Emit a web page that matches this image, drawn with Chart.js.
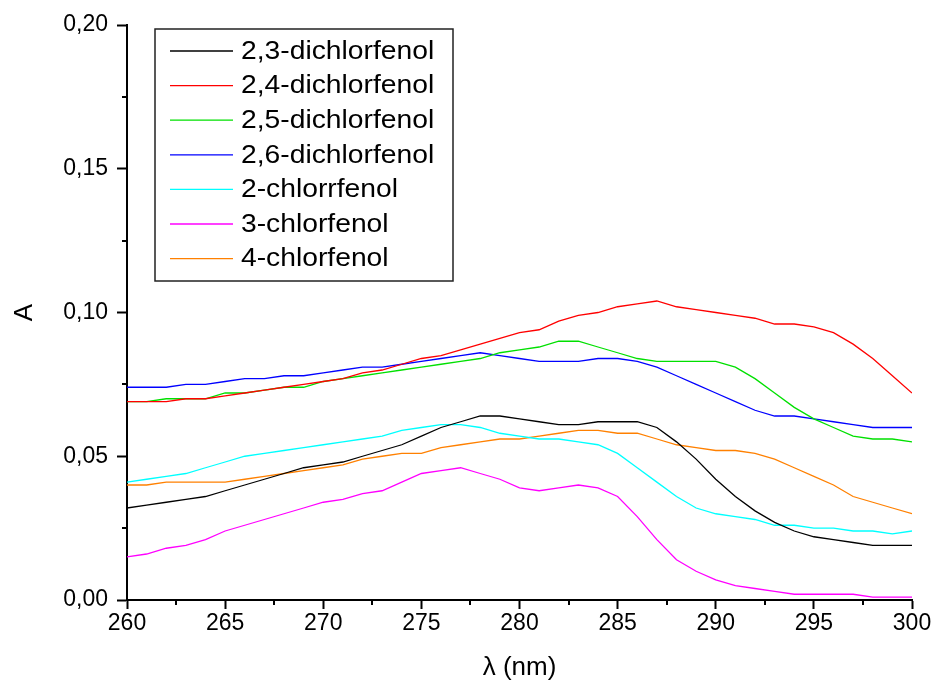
<!DOCTYPE html>
<html>
<head>
<meta charset="utf-8">
<script src="https://cdn.jsdelivr.net/npm/chart.js@4.4.1/dist/chart.umd.min.js"></script>
<style>
    html, body { margin: 0; padding: 0; background: #fff; }
    #wrap { width: 933px; height: 687px; }
</style>
</head>
<body>
<div id="wrap"><canvas id="spectraChart" width="933" height="687"></canvas></div>
<script>
// vlnova delka (nm)
const wavelengths = [260, 261, 262, 263, 264, 265, 266, 267, 268, 269, 270,
    271, 272, 273, 274, 275, 276, 277, 278, 279, 280,
    281, 282, 283, 284, 285, 286, 287, 288, 289, 290,
    291, 292, 293, 294, 295, 296, 297, 298, 299, 300];

const seriesNames = ['2,3-dichlorfenol', '2,4-dichlorfenol', '2,5-dichlorfenol',
    '2,6-dichlorfenol', '2-chlorrfenol', '3-chlorfenol', '4-chlorfenol'];

const dcp23 = [0.032, 0.033, 0.034, 0.035, 0.036, 0.038, 0.040, 0.042, 0.044, 0.046, 0.047,
    0.048, 0.050, 0.052, 0.054, 0.057, 0.060, 0.062, 0.064, 0.064, 0.063,
    0.062, 0.061, 0.061, 0.062, 0.062, 0.062, 0.060, 0.055, 0.049, 0.042,
    0.036, 0.031, 0.027, 0.024, 0.022, 0.021, 0.020, 0.019, 0.019, 0.019];

const dcp24 = [0.069, 0.069, 0.069, 0.070, 0.070, 0.071, 0.072, 0.073, 0.074, 0.075, 0.076,
    0.077, 0.079, 0.080, 0.082, 0.084, 0.085, 0.087, 0.089, 0.091, 0.093,
    0.094, 0.097, 0.099, 0.100, 0.102, 0.103, 0.104, 0.102, 0.101, 0.100,
    0.099, 0.098, 0.096, 0.096, 0.095, 0.093, 0.089, 0.084, 0.078, 0.072];

const dcp25 = [0.069, 0.069, 0.070, 0.070, 0.070, 0.072, 0.072, 0.073, 0.074, 0.074, 0.076,
    0.077, 0.078, 0.079, 0.080, 0.081, 0.082, 0.083, 0.084, 0.086, 0.087,
    0.088, 0.090, 0.090, 0.088, 0.086, 0.084, 0.083, 0.083, 0.083, 0.083,
    0.081, 0.077, 0.072, 0.067, 0.063, 0.060, 0.057, 0.056, 0.056, 0.055];

const dcp26 = [0.074, 0.074, 0.074, 0.075, 0.075, 0.076, 0.077, 0.077, 0.078, 0.078, 0.079,
    0.080, 0.081, 0.081, 0.082, 0.083, 0.084, 0.085, 0.086, 0.085, 0.084,
    0.083, 0.083, 0.083, 0.084, 0.084, 0.083, 0.081, 0.078, 0.075, 0.072,
    0.069, 0.066, 0.064, 0.064, 0.063, 0.062, 0.061, 0.060, 0.060, 0.060];

const cp2 = [0.041, 0.042, 0.043, 0.044, 0.046, 0.048, 0.050, 0.051, 0.052, 0.053, 0.054,
    0.055, 0.056, 0.057, 0.059, 0.060, 0.061, 0.061, 0.060, 0.058, 0.057,
    0.056, 0.056, 0.055, 0.054, 0.051, 0.046, 0.041, 0.036, 0.032, 0.030,
    0.029, 0.028, 0.026, 0.026, 0.025, 0.025, 0.024, 0.024, 0.023, 0.024];

const cp3 = [0.015, 0.016, 0.018, 0.019, 0.021, 0.024, 0.026, 0.028, 0.030, 0.032, 0.034,
    0.035, 0.037, 0.038, 0.041, 0.044, 0.045, 0.046, 0.044, 0.042, 0.039,
    0.038, 0.039, 0.040, 0.039, 0.036, 0.029, 0.021, 0.014, 0.010, 0.007,
    0.005, 0.004, 0.003, 0.002, 0.002, 0.002, 0.002, 0.001, 0.001, 0.001];

const cp4 = [0.040, 0.040, 0.041, 0.041, 0.041, 0.041, 0.042, 0.043, 0.044, 0.045, 0.046,
    0.047, 0.049, 0.050, 0.051, 0.051, 0.053, 0.054, 0.055, 0.056, 0.056,
    0.057, 0.058, 0.059, 0.059, 0.058, 0.058, 0.056, 0.054, 0.053, 0.052,
    0.052, 0.051, 0.049, 0.046, 0.043, 0.040, 0.036, 0.034, 0.032, 0.030];

const seriesColors = ['#000000', '#ff0000', '#00e000', '#0000ff', '#00ffff', '#ff00ff', '#ff8000'];

const allSeries = [dcp23, dcp24, dcp25, dcp26, cp2, cp3, cp4];

// vedlejsi dilky os (minor ticks)
const minorTicks = {
    id: 'minorTicks',
    afterDraw(chart) {
        const ctx = chart.ctx;
        const xs = chart.scales.x;
        const ys = chart.scales.y;
        ctx.save();
        ctx.strokeStyle = '#000';
        ctx.lineWidth = 2;
        ctx.beginPath();
        for (let v = 262.5; v < 300; v += 5) {
            const px = Math.round(xs.getPixelForValue(v));
            ctx.moveTo(px, ys.bottom);
            ctx.lineTo(px, ys.bottom + 5);
        }
        for (let v = 0.025; v < 0.2; v += 0.05) {
            const py = Math.round(ys.getPixelForValue(v));
            ctx.moveTo(xs.left, py);
            ctx.lineTo(xs.left - 5, py);
        }
        ctx.stroke();
        ctx.restore();
    }
};

// legenda v ramecku uvnitr grafu
const boxLegend = {
    id: 'boxLegend',
    afterDraw(chart) {
        const ctx = chart.ctx;
        const bx = 155, by = 29, bw = 298, bh = 252;
        ctx.save();
        ctx.fillStyle = '#fff';
        ctx.fillRect(bx, by, bw, bh);
        ctx.strokeStyle = '#222';
        ctx.lineWidth = 1.5;
        ctx.strokeRect(bx, by, bw, bh);
        ctx.font = '25px Arial, "Liberation Sans", sans-serif';
        ctx.textBaseline = 'middle';
        chart.data.datasets.forEach((ds, i) => {
            const y = by + 22 + i * 34.6;
            ctx.strokeStyle = ds.borderColor;
            ctx.lineWidth = 1.3;
            ctx.beginPath();
            ctx.moveTo(170, y);
            ctx.lineTo(233, y);
            ctx.stroke();
            ctx.fillStyle = '#000';
            ctx.save();
            ctx.translate(241, y + 1);
            ctx.scale(1.13, 1);
            ctx.fillText(ds.label, 0, 0);
            ctx.restore();
        });
        ctx.restore();
    }
};

document.addEventListener("DOMContentLoaded", function () {
    const ctx = document.getElementById('spectraChart');

    const datasets = allSeries.map((values, i) => ({
        label: seriesNames[i],
        data: values.map((a, j) => ({ x: wavelengths[j], y: a })),
        borderColor: seriesColors[i],
        backgroundColor: seriesColors[i],
        borderWidth: 1.3,
        pointRadius: 0,
        tension: 0,
        fill: false
    }));

    new Chart(ctx, {
        type: 'line',
        data: { datasets: datasets },
        options: {
            responsive: false,
            animation: false,
            layout: { padding: { top: 25, right: 21, left: 0, bottom: 0 } },
            plugins: {
                legend: { display: false },
                tooltip: { enabled: false }
            },
            scales: {
                x: {
                    type: 'linear',
                    min: 260,
                    max: 300,
                    afterFit: function (scale) { scale.height = 87; },
                    border: { display: true, color: '#000', width: 2 },
                    grid: { drawOnChartArea: false, drawTicks: true, tickLength: 9, tickWidth: 2, tickColor: '#000' },
                    ticks: {
                        stepSize: 5,
                        color: '#000',
                        padding: 1,
                        maxRotation: 0,
                        font: { family: 'Arial, "Liberation Sans", sans-serif', size: 23 }
                    },
                    title: {
                        display: true,
                        text: 'λ (nm)',
                        color: '#000',
                        padding: { top: 0, bottom: 4 },
                        font: { family: 'Arial, "Liberation Sans", sans-serif', size: 26 }
                    }
                },
                y: {
                    min: 0,
                    max: 0.2,
                    afterFit: function (scale) { scale.width = 127; },
                    border: { display: true, color: '#000', width: 2 },
                    grid: { drawOnChartArea: false, drawTicks: true, tickLength: 10, tickWidth: 2, tickColor: '#000' },
                    ticks: {
                        stepSize: 0.05,
                        color: '#000',
                        padding: 9,
                        font: { family: 'Arial, "Liberation Sans", sans-serif', size: 23 },
                        callback: function (v) { return v.toFixed(2).replace('.', ','); }
                    },
                    title: {
                        display: true,
                        text: 'A',
                        color: '#000',
                        padding: { top: 9, bottom: 0 },
                        font: { family: 'Arial, "Liberation Sans", sans-serif', size: 26 }
                    }
                }
            }
        },
        plugins: [minorTicks, boxLegend]
    });
});
</script>
</body>
</html>
